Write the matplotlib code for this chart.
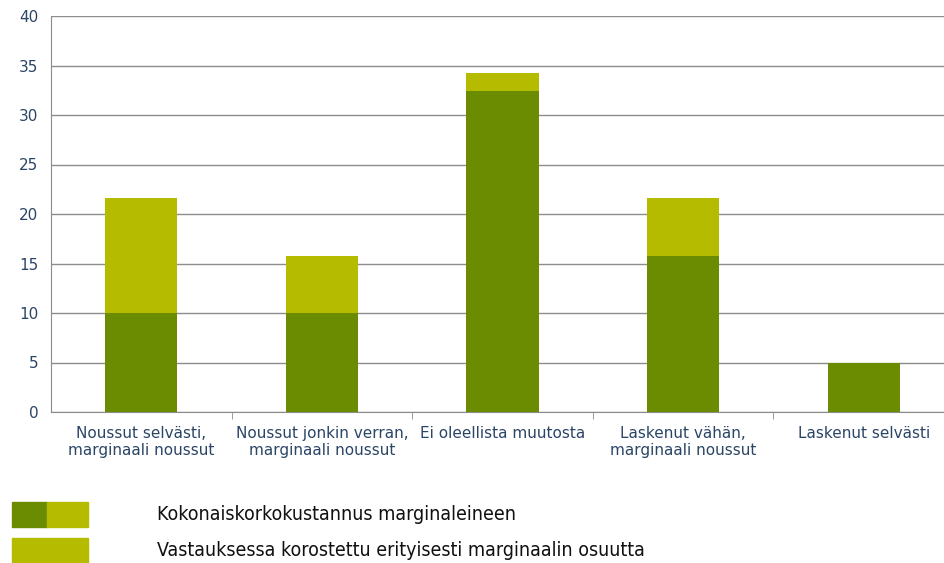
import matplotlib.pyplot as plt
from matplotlib.patches import Rectangle
import numpy as np

categories = [
    "Noussut selvästi,\nmarginaali noussut",
    "Noussut jonkin verran,\nmarginaali noussut",
    "Ei oleellista muutosta",
    "Laskenut vähän,\nmarginaali noussut",
    "Laskenut selvästi",
]
total_cost = [10.0, 10.0, 32.4, 15.8, 5.0]
margin_part = [11.6, 5.8, 1.8, 5.8, 0.0]
legend_labels = [
    "Kokonaiskorkokustannus marginaleineen",
    "Vastauksessa korostettu erityisesti marginaalin osuutta",
]

dark = "#6b8c00"
light = "#b5bc00"
text_col = "#2b4566"
grid_col = "#8c8c8c"

fig = plt.figure(figsize=(9.44, 5.63), dpi=100)
ax = fig.add_axes([51 / 944, 1 - 412 / 563, 1 - 51 / 944, 396 / 563])

x = np.arange(len(categories))
ax.bar(x, total_cost, width=0.4, color=dark, zorder=3)
ax.bar(x, margin_part, width=0.4, bottom=total_cost, color=light, zorder=3)

ax.set_ylim(0, 40)
ax.set_xlim(-0.5, 4.5 - 10 / 180.5)
ax.set_yticks(np.arange(0, 41, 5))
ax.yaxis.grid(True, color=grid_col, linewidth=1, zorder=0)
ax.tick_params(axis="y", length=0, pad=9, labelsize=11, labelcolor=text_col)

# category labels, separator ticks between categories
ax.set_xticks(x)
ax.set_xticklabels(categories, fontsize=11, color=text_col, linespacing=1.2)
ax.tick_params(axis="x", length=0, pad=10)
ax.set_xticks(np.arange(0.5, 4, 1), minor=True)
ax.tick_params(axis="x", which="minor", length=5, color=grid_col, direction="out")

for side in ["top", "right"]:
    ax.spines[side].set_visible(False)
ax.spines["left"].set_color(grid_col)
ax.spines["bottom"].set_color(grid_col)

# hand-drawn legend under the chart
W, H = 944, 563
fig.patches.append(Rectangle((12 / W, 1 - 527 / H), 35 / W, 25 / H,
                             transform=fig.transFigure, color=dark))
fig.patches.append(Rectangle((47 / W, 1 - 527 / H), 41 / W, 25 / H,
                             transform=fig.transFigure, color=light))
fig.patches.append(Rectangle((12 / W, 1 - 563 / H), 76 / W, 25 / H,
                             transform=fig.transFigure, color=light))
leg_font = ["DejaVu Sans", "Liberation Sans"]
for lbl, yy in zip(legend_labels, [514, 550]):
    fig.text(157 / W, 1 - yy / H, lbl, fontsize=14, family=leg_font,
             stretch="condensed", color="#111111", va="center")

fig.savefig("out.png", dpi=100)
